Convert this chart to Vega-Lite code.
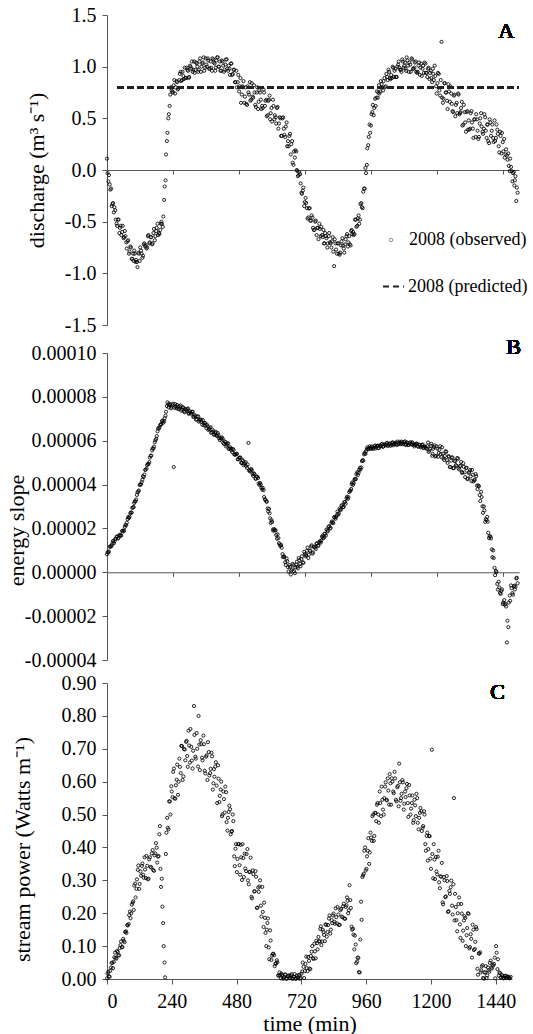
{
"$schema":"https://vega.github.io/schema/vega-lite/v6.json",
"padding":{"left":5,"top":5,"right":0,"bottom":0},
"config":{"view":{"stroke":null},"font":"Liberation Serif",
"axis":{"grid":false,"domainColor":"#555","tickColor":"#555","labelFont":"Liberation Serif","labelFontSize":20,"labelColor":"#000","titleFont":"Liberation Serif","titleFontSize":22,"titleFontWeight":"normal","titleColor":"#000","tickSize":5,"labelPadding":6,"labelOverlap":false},
"axisY":{"labelOverlap":false},
"legend":{"labelFont":"Liberation Serif","labelFontSize":18,"labelColor":"#000"}},
"data":{"values":[
{"t":0,"q":0.11,"s":8.2e-6,"p":0.002},{"t":5,"q":-0.11,"s":9.0e-6,"p":0.022},{"t":10,"q":-0.14,"s":1.17e-5,"p":0.007},{"t":15,"q":-0.18,"s":1.18e-5,"p":0.035},{"t":20,"q":-0.33,"s":1.34e-5,"p":0.049},{"t":25,"q":-0.41,"s":1.32e-5,"p":0.052},{"t":30,"q":-0.39,"s":1.51e-5,"p":0.08},{"t":35,"q":-0.52,"s":1.61e-5,"p":0.062},{"t":40,"q":-0.48,"s":1.54e-5,"p":0.082},{"t":45,"q":-0.61,"s":1.68e-5,"p":0.072},
{"t":50,"q":-0.54,"s":1.68e-5,"p":0.103},{"t":55,"q":-0.60,"s":1.88e-5,"p":0.097},{"t":60,"q":-0.66,"s":1.86e-5,"p":0.122},{"t":65,"q":-0.59,"s":2.07e-5,"p":0.112},{"t":70,"q":-0.70,"s":2.15e-5,"p":0.145},{"t":75,"q":-0.69,"s":2.42e-5,"p":0.164},{"t":80,"q":-0.81,"s":2.48e-5,"p":0.167},{"t":85,"q":-0.74,"s":2.69e-5,"p":0.205},{"t":90,"q":-0.86,"s":2.72e-5,"p":0.2},{"t":95,"q":-0.81,"s":2.96e-5,"p":0.232},
{"t":99,"q":-0.78,"s":3.16e-5,"p":0.21},{"t":104,"q":-0.89,"s":3.24e-5,"p":0.29},{"t":109,"q":-0.89,"s":3.53e-5,"p":0.274},{"t":114,"q":-0.80,"s":3.68e-5,"p":0.332},{"t":119,"q":-0.88,"s":3.98e-5,"p":0.274},{"t":124,"q":-0.78,"s":4.01e-5,"p":0.327},{"t":129,"q":-0.85,"s":4.22e-5,"p":0.344},{"t":134,"q":-0.72,"s":4.35e-5,"p":0.317},{"t":139,"q":-0.74,"s":4.67e-5,"p":0.37},{"t":144,"q":-0.76,"s":4.73e-5,"p":0.307},
{"t":149,"q":-0.64,"s":4.94e-5,"p":0.344},{"t":154,"q":-0.71,"s":5.02e-5,"p":0.305},{"t":159,"q":-0.65,"s":5.31e-5,"p":0.37},{"t":164,"q":-0.72,"s":5.56e-5,"p":0.339},{"t":169,"q":-0.61,"s":5.64e-5,"p":0.392},{"t":174,"q":-0.68,"s":5.93e-5,"p":0.329},{"t":179,"q":-0.59,"s":6.08e-5,"p":0.382},{"t":184,"q":-0.52,"s":6.43e-5,"p":0.399},{"t":189,"q":-0.61,"s":6.56e-5,"p":0.372},{"t":194,"q":-0.58,"s":6.72e-5,"p":0.44},
{"t":198,"q":-0.50,"s":6.75e-5,"p":0.335},{"t":203,"q":-0.55,"s":6.92e-5,"p":0.305},{"t":208,"q":-0.29,"s":6.88e-5,"p":0.17},{"t":213,"q":-0.10,"s":7.14e-5,"p":0.05},{"t":218,"q":0.28,"s":7.58e-5,"p":0.38},{"t":223,"q":0.50,"s":7.66e-5,"p":0.49},{"t":228,"q":0.62,"s":7.68e-5,"p":0.455},{"t":233,"q":0.80,"s":7.48e-5,"p":0.54},{"t":238,"q":0.76,"s":7.62e-5,"p":0.586},{"t":243,"q":0.82,"s":4.8e-5,"p":0.553},
{"t":248,"q":0.74,"s":7.67e-5,"p":0.64},{"t":253,"q":0.86,"s":7.48e-5,"p":0.548},{"t":258,"q":0.78,"s":7.55e-5,"p":0.606},{"t":263,"q":0.87,"s":7.45e-5,"p":0.56},{"t":268,"q":0.95,"s":7.61e-5,"p":0.67},{"t":273,"q":0.87,"s":7.43e-5,"p":0.626},{"t":278,"q":0.91,"s":7.51e-5,"p":0.708},{"t":283,"q":0.99,"s":7.30e-5,"p":0.616},{"t":288,"q":0.89,"s":7.41e-5,"p":0.698},{"t":293,"q":0.97,"s":7.44e-5,"p":0.721},
{"t":297,"q":0.89,"s":7.23e-5,"p":0.678},{"t":302,"q":1.01,"s":7.34e-5,"p":0.755},{"t":307,"q":0.98,"s":7.23e-5,"p":0.658},{"t":312,"q":0.95,"s":7.32e-5,"p":0.706},{"t":317,"q":1.05,"s":7.09e-5,"p":0.64},{"t":322,"q":0.97,"s":7.12e-5,"p":0.83},{"t":327,"q":1.03,"s":6.98e-5,"p":0.676},{"t":332,"q":0.95,"s":7.11e-5,"p":0.748},{"t":337,"q":1.05,"s":6.91e-5,"p":0.646},{"t":342,"q":0.95,"s":6.96e-5,"p":0.713},
{"t":347,"q":1.03,"s":6.73e-5,"p":0.726},{"t":352,"q":1.09,"s":6.80e-5,"p":0.673},{"t":357,"q":0.99,"s":6.81e-5,"p":0.74},{"t":362,"q":1.02,"s":6.57e-5,"p":0.633},{"t":367,"q":1.08,"s":6.65e-5,"p":0.676},{"t":372,"q":0.98,"s":6.53e-5,"p":0.605},{"t":377,"q":1.05,"s":6.62e-5,"p":0.69},{"t":382,"q":0.96,"s":6.39e-5,"p":0.626},{"t":387,"q":1.07,"s":6.42e-5,"p":0.688},{"t":392,"q":1.03,"s":6.28e-5,"p":0.576},
{"t":396,"q":0.99,"s":6.41e-5,"p":0.638},{"t":401,"q":1.09,"s":6.21e-5,"p":0.646},{"t":406,"q":1.00,"s":6.26e-5,"p":0.588},{"t":411,"q":1.05,"s":6.02e-5,"p":0.65},{"t":416,"q":0.96,"s":6.09e-5,"p":0.538},{"t":421,"q":1.05,"s":6.10e-5,"p":0.576},{"t":426,"q":0.95,"s":5.85e-5,"p":0.495},{"t":431,"q":1.02,"s":5.94e-5,"p":0.57},{"t":436,"q":1.07,"s":5.81e-5,"p":0.506},{"t":441,"q":0.96,"s":5.88e-5,"p":0.568},
{"t":446,"q":0.98,"s":5.64e-5,"p":0.451},{"t":451,"q":1.03,"s":5.64e-5,"p":0.508},{"t":456,"q":0.92,"s":5.48e-5,"p":0.516},{"t":461,"q":0.97,"s":5.58e-5,"p":0.448},{"t":466,"q":0.85,"s":5.36e-5,"p":0.5},{"t":471,"q":0.96,"s":5.40e-5,"p":0.373},{"t":476,"q":0.85,"s":5.15e-5,"p":0.396},{"t":481,"q":0.76,"s":5.22e-5,"p":0.325},{"t":486,"q":0.89,"s":5.23e-5,"p":0.41},{"t":491,"q":0.73,"s":4.98e-5,"p":0.346},
{"t":495,"q":0.80,"s":5.07e-5,"p":0.408},{"t":500,"q":0.65,"s":4.94e-5,"p":0.301},{"t":505,"q":0.80,"s":5.02e-5,"p":0.368},{"t":510,"q":0.63,"s":4.76e-5,"p":0.381},{"t":515,"q":0.75,"s":5.9e-5,"p":0.328},{"t":520,"q":0.85,"s":4.60e-5,"p":0.395},{"t":525,"q":0.68,"s":4.71e-5,"p":0.288},{"t":530,"q":0.71,"s":4.48e-5,"p":0.326},{"t":535,"q":0.82,"s":4.51e-5,"p":0.25},{"t":540,"q":0.63,"s":4.28e-5,"p":0.33},
{"t":545,"q":0.75,"s":4.36e-5,"p":0.266},{"t":550,"q":0.59,"s":4.30e-5,"p":0.328},{"t":555,"q":0.77,"s":3.98e-5,"p":0.216},{"t":560,"q":0.68,"s":4.01e-5,"p":0.278},{"t":565,"q":0.62,"s":3.77e-5,"p":0.281},{"t":570,"q":0.78,"s":3.75e-5,"p":0.223},{"t":575,"q":0.62,"s":3.33e-5,"p":0.28},{"t":580,"q":0.68,"s":3.23e-5,"p":0.158},{"t":585,"q":0.53,"s":2.91e-5,"p":0.186},{"t":590,"q":0.68,"s":2.89e-5,"p":0.1},
{"t":594,"q":0.49,"s":2.46e-5,"p":0.17},{"t":599,"q":0.60,"s":2.38e-5,"p":0.096},{"t":604,"q":0.68,"s":1.95e-5,"p":0.148},{"t":609,"q":0.49,"s":1.97e-5,"p":0.058},{"t":614,"q":0.51,"s":1.91e-5,"p":0.076},{"t":619,"q":0.60,"s":1.53e-5,"p":0.072},{"t":624,"q":0.40,"s":1.56e-5,"p":0.046},{"t":629,"q":0.51,"s":1.27e-5,"p":0.057},{"t":634,"q":0.33,"s":1.25e-5,"p":0.011},{"t":639,"q":0.50,"s":8.3e-6,"p":0.02},
{"t":644,"q":0.40,"s":7.3e-6,"p":0.002},{"t":649,"q":0.32,"s":4.6e-6,"p":0.013},{"t":654,"q":0.46,"s":6.3e-6,"p":0.001},{"t":659,"q":0.28,"s":2.3e-6,"p":0.013},{"t":664,"q":0.33,"s":3.3e-6,"p":0.001},{"t":669,"q":0.15,"s":-1.0e-6,"p":0.008},{"t":674,"q":0.28,"s":1.3e-6,"p":0.011},{"t":679,"q":0.05,"s":3.3e-6,"p":0.003},{"t":684,"q":0.12,"s":-4.0e-7,"p":0.015},{"t":689,"q":0.18,"s":3.5e-6,"p":0.001},
{"t":693,"q":-0.01,"s":2.5e-6,"p":0.006},{"t":698,"q":-0.05,"s":6.5e-6,"p":0.001},{"t":703,"q":-0.04,"s":3.8e-6,"p":0.01},{"t":708,"q":-0.22,"s":6.0e-6,"p":0.002},{"t":713,"q":-0.20,"s":4.5e-6,"p":0.013},{"t":718,"q":-0.35,"s":9.3e-6,"p":0.003},{"t":723,"q":-0.27,"s":7.3e-6,"p":0.023},{"t":728,"q":-0.37,"s":9.8e-6,"p":0.037},{"t":733,"q":-0.46,"s":6.5e-6,"p":0.024},{"t":738,"q":-0.37,"s":9.8e-6,"p":0.068},
{"t":743,"q":-0.49,"s":1.18e-5,"p":0.024},{"t":748,"q":-0.46,"s":8.5e-6,"p":0.055},{"t":753,"q":-0.58,"s":1.15e-5,"p":0.03},{"t":758,"q":-0.50,"s":1.13e-5,"p":0.083},{"t":763,"q":-0.63,"s":1.32e-5,"p":0.063},{"t":768,"q":-0.56,"s":1.22e-5,"p":0.107},{"t":773,"q":-0.52,"s":1.37e-5,"p":0.063},{"t":778,"q":-0.64,"s":1.35e-5,"p":0.109},{"t":783,"q":-0.63,"s":1.61e-5,"p":0.128},{"t":788,"q":-0.58,"s":1.56e-5,"p":0.114},
{"t":792,"q":-0.71,"s":1.76e-5,"p":0.16},{"t":797,"q":-0.64,"s":1.68e-5,"p":0.114},{"t":802,"q":-0.75,"s":1.91e-5,"p":0.143},{"t":807,"q":-0.64,"s":2.08e-5,"p":0.115},{"t":812,"q":-0.70,"s":2.00e-5,"p":0.165},{"t":817,"q":-0.75,"s":2.25e-5,"p":0.143},{"t":822,"q":-0.65,"s":2.28e-5,"p":0.184},{"t":827,"q":-0.93,"s":2.52e-5,"p":0.138},{"t":832,"q":-0.71,"s":2.44e-5,"p":0.179},{"t":837,"q":-0.81,"s":2.62e-5,"p":0.193},
{"t":842,"q":-0.71,"s":2.63e-5,"p":0.174},{"t":847,"q":-0.82,"s":2.91e-5,"p":0.215},{"t":852,"q":-0.73,"s":2.86e-5,"p":0.169},{"t":857,"q":-0.66,"s":3.06e-5,"p":0.196},{"t":862,"q":-0.76,"s":2.98e-5,"p":0.165},{"t":867,"q":-0.72,"s":3.21e-5,"p":0.213},{"t":872,"q":-0.64,"s":3.38e-5,"p":0.188},{"t":877,"q":-0.74,"s":3.35e-5,"p":0.229},{"t":882,"q":-0.64,"s":3.65e-5,"p":0.183},{"t":887,"q":-0.73,"s":3.73e-5,"p":0.224},
{"t":891,"q":-0.58,"s":4.02e-5,"p":0.238},{"t":896,"q":-0.60,"s":3.99e-5,"p":0.209},{"t":901,"q":-0.62,"s":4.22e-5,"p":0.24},{"t":906,"q":-0.48,"s":4.25e-5,"p":0.159},{"t":911,"q":-0.54,"s":4.56e-5,"p":0.153},{"t":916,"q":-0.44,"s":4.53e-5,"p":0.09},{"t":921,"q":-0.48,"s":4.76e-5,"p":0.105},{"t":926,"q":-0.32,"s":4.78e-5,"p":0.053},{"t":931,"q":-0.37,"s":5.11e-5,"p":0.064},{"t":936,"q":-0.18,"s":5.38e-5,"p":0.02},
{"t":941,"q":0.02,"s":5.40e-5,"p":0.235},{"t":946,"q":0.05,"s":5.61e-5,"p":0.31},{"t":951,"q":0.24,"s":5.63e-5,"p":0.32},{"t":956,"q":0.44,"s":5.74e-5,"p":0.4},{"t":961,"q":0.43,"s":5.63e-5,"p":0.335},{"t":966,"q":0.56,"s":5.70e-5,"p":0.39},{"t":971,"q":0.53,"s":5.65e-5,"p":0.35},{"t":976,"q":0.69,"s":5.78e-5,"p":0.445},{"t":981,"q":0.70,"s":5.70e-5,"p":0.42},{"t":986,"q":0.70,"s":5.77e-5,"p":0.5},
{"t":990,"q":0.82,"s":5.67e-5,"p":0.435},{"t":995,"q":0.76,"s":5.77e-5,"p":0.505},{"t":1000,"q":0.83,"s":5.83e-5,"p":0.53},{"t":1005,"q":0.77,"s":5.72e-5,"p":0.5},{"t":1010,"q":0.89,"s":5.83e-5,"p":0.57},{"t":1015,"q":0.81,"s":5.79e-5,"p":0.495},{"t":1020,"q":0.90,"s":5.90e-5,"p":0.545},{"t":1025,"q":0.97,"s":5.80e-5,"p":0.5},{"t":1030,"q":0.89,"s":5.87e-5,"p":0.585},{"t":1035,"q":0.92,"s":5.81e-5,"p":0.545},
{"t":1040,"q":1.00,"s":5.93e-5,"p":0.61},{"t":1045,"q":0.90,"s":5.85e-5,"p":0.53},{"t":1050,"q":0.98,"s":5.91e-5,"p":0.595},{"t":1055,"q":0.90,"s":5.80e-5,"p":0.61},{"t":1060,"q":1.02,"s":5.89e-5,"p":0.57},{"t":1065,"q":0.99,"s":5.95e-5,"p":0.63},{"t":1070,"q":0.97,"s":5.84e-5,"p":0.545},{"t":1075,"q":1.07,"s":5.93e-5,"p":0.583},{"t":1080,"q":0.99,"s":5.87e-5,"p":0.525},{"t":1085,"q":1.04,"s":5.97e-5,"p":0.598},
{"t":1089,"q":0.96,"s":5.84e-5,"p":0.55},{"t":1094,"q":1.06,"s":5.89e-5,"p":0.605},{"t":1099,"q":0.95,"s":5.82e-5,"p":0.515},{"t":1104,"q":1.02,"s":5.93e-5,"p":0.57},{"t":1109,"q":1.08,"s":5.83e-5,"p":0.58},{"t":1114,"q":0.98,"s":5.88e-5,"p":0.535},{"t":1119,"q":0.99,"s":5.74e-5,"p":0.59},{"t":1124,"q":1.05,"s":5.82e-5,"p":0.5},{"t":1129,"q":0.94,"s":5.86e-5,"p":0.535},{"t":1134,"q":1.01,"s":5.73e-5,"p":0.475},
{"t":1139,"q":0.92,"s":5.81e-5,"p":0.545},{"t":1144,"q":1.03,"s":5.74e-5,"p":0.495},{"t":1149,"q":0.98,"s":5.83e-5,"p":0.55},{"t":1154,"q":0.94,"s":5.68e-5,"p":0.455},{"t":1159,"q":1.03,"s":5.72e-5,"p":0.505},{"t":1164,"q":0.94,"s":5.63e-5,"p":0.51},{"t":1169,"q":0.98,"s":5.92e-5,"p":0.46},{"t":1174,"q":0.88,"s":5.55e-5,"p":0.51},{"t":1179,"q":0.96,"s":5.77e-5,"p":0.41},{"t":1184,"q":0.85,"s":5.31e-5,"p":0.435},
{"t":1188,"q":0.93,"s":5.63e-5,"p":0.36},{"t":1193,"q":1.01,"s":5.79e-5,"p":0.435},{"t":1198,"q":0.81,"s":5.31e-5,"p":0.366},{"t":1203,"q":0.84,"s":5.64e-5,"p":0.697},{"t":1208,"q":0.93,"s":5.44e-5,"p":0.306},{"t":1213,"q":0.72,"s":5.75e-5,"p":0.363},{"t":1218,"q":1.24,"s":5.25e-5,"p":0.371},{"t":1223,"q":0.65,"s":5.41e-5,"p":0.318},{"t":1228,"q":0.84,"s":5.12e-5,"p":0.39},{"t":1233,"q":0.75,"s":5.52e-5,"p":0.276},
{"t":1238,"q":0.67,"s":5.11e-5,"p":0.311},{"t":1243,"q":0.83,"s":5.30e-5,"p":0.233},{"t":1248,"q":0.66,"s":4.80e-5,"p":0.31},{"t":1253,"q":0.74,"s":5.09e-5,"p":0.249},{"t":1258,"q":0.57,"s":5.23e-5,"p":0.313},{"t":1263,"q":0.72,"s":4.75e-5,"p":0.204},{"t":1268,"q":0.52,"s":5.07e-5,"p":0.268},{"t":1273,"q":0.65,"s":4.85e-5,"p":0.279},{"t":1278,"q":0.74,"s":5.18e-5,"p":0.223},{"t":1283,"q":0.54,"s":4.69e-5,"p":0.288},
{"t":1287,"q":0.56,"s":4.86e-5,"p":0.178},{"t":1292,"q":0.66,"s":4.57e-5,"p":0.219},{"t":1297,"q":0.44,"s":4.97e-5,"p":0.145},{"t":1302,"q":0.56,"s":4.56e-5,"p":0.228},{"t":1307,"q":0.37,"s":4.75e-5,"p":0.166},{"t":1312,"q":0.57,"s":4.25e-5,"p":0.228},{"t":1317,"q":0.48,"s":4.53e-5,"p":0.116},{"t":1322,"q":0.40,"s":4.66e-5,"p":0.178},{"t":1327,"q":0.57,"s":4.16e-5,"p":0.186},{"t":1332,"q":0.40,"s":4.45e-5,"p":0.133},
{"t":1337,"q":0.49,"s":4.19e-5,"p":0.2},{"t":1342,"q":0.32,"s":4.48e-5,"p":0.093},{"t":1347,"q":0.49,"s":3.95e-5,"p":0.136},{"t":1352,"q":0.30,"s":3.96e-5,"p":0.065},{"t":1357,"q":0.45,"s":3.52e-5,"p":0.15},{"t":1362,"q":0.55,"s":3.67e-5,"p":0.091},{"t":1367,"q":0.37,"s":3.01e-5,"p":0.158},{"t":1372,"q":0.40,"s":3.00e-5,"p":0.031},{"t":1377,"q":0.51,"s":2.30e-5,"p":0.078},{"t":1382,"q":0.31,"s":2.38e-5,"p":0.081},
{"t":1386,"q":0.44,"s":2.31e-5,"p":0.026},{"t":1391,"q":0.26,"s":1.56e-5,"p":0.042},{"t":1396,"q":0.46,"s":1.62e-5,"p":0.001},{"t":1401,"q":0.38,"s":1.04e-5,"p":0.02},{"t":1406,"q":0.31,"s":1.00e-5,"p":0.003},{"t":1411,"q":0.48,"s":2.0e-6,"p":0.035},{"t":1416,"q":0.31,"s":6.0e-7,"p":0.022},{"t":1421,"q":0.39,"s":-5.3e-6,"p":0.056},{"t":1426,"q":0.23,"s":-4.3e-6,"p":0.032},{"t":1431,"q":0.37,"s":-9.4e-6,"p":0.041},
{"t":1436,"q":0.16,"s":-8.5e-6,"p":0.065},{"t":1441,"q":0.27,"s":-1.45e-5,"p":0.10},{"t":1446,"q":0.30,"s":-1.27e-5,"p":0.03},{"t":1451,"q":0.15,"s":-1.44e-5,"p":0.01},{"t":1456,"q":0.14,"s":-3.2e-5,"p":0.018},{"t":1461,"q":0.16,"s":-2.5e-5,"p":0.004},{"t":1466,"q":-0.01,"s":-1.06e-5,"p":0.008},{"t":1471,"q":0.03,"s":-6.0e-6,"p":0.003},{"t":1476,"q":-0.11,"s":-9.5e-6,"p":0.01},{"t":1481,"q":-0.02,"s":-6.4e-6,"p":0.004},
{"t":1485,"q":-0.10,"s":-7.8e-6,"p":0.006},{"t":1490,"q":-0.30,"s":-2.8e-6,"p":0.002},{"t":1495,"q":-0.22,"s":-5.0e-6,"p":0.007},
{"t":2,"q":-0.03,"s":9.2e-6,"p":0.016},{"t":7,"q":-0.05,"s":9.5e-6,"p":0.008},{"t":12,"q":-0.19,"s":1.17e-5,"p":0.025},{"t":17,"q":-0.35,"s":1.23e-5,"p":0.049},{"t":22,"q":-0.32,"s":1.43e-5,"p":0.033},{"t":27,"q":-0.36,"s":1.41e-5,"p":0.066},{"t":32,"q":-0.48,"s":1.53e-5,"p":0.064},{"t":37,"q":-0.54,"s":1.64e-5,"p":0.085},{"t":42,"q":-0.48,"s":1.57e-5,"p":0.072},{"t":47,"q":-0.56,"s":1.71e-5,"p":0.094},
{"t":52,"q":-0.63,"s":1.67e-5,"p":0.114},{"t":57,"q":-0.54,"s":1.90e-5,"p":0.097},{"t":62,"q":-0.65,"s":1.90e-5,"p":0.116},{"t":67,"q":-0.64,"s":2.15e-5,"p":0.143},{"t":72,"q":-0.76,"s":2.26e-5,"p":0.14},{"t":77,"q":-0.68,"s":2.51e-5,"p":0.163},{"t":82,"q":-0.79,"s":2.54e-5,"p":0.194},{"t":87,"q":-0.75,"s":2.73e-5,"p":0.185},{"t":92,"q":-0.86,"s":2.94e-5,"p":0.226},{"t":97,"q":-0.88,"s":2.97e-5,"p":0.236},
{"t":101,"q":-0.81,"s":3.23e-5,"p":0.284},{"t":106,"q":-0.87,"s":3.32e-5,"p":0.248},{"t":111,"q":-0.94,"s":3.65e-5,"p":0.303},{"t":116,"q":-0.81,"s":3.73e-5,"p":0.345},{"t":121,"q":-0.75,"s":4.00e-5,"p":0.289},{"t":126,"q":-0.81,"s":4.11e-5,"p":0.314},{"t":131,"q":-0.83,"s":4.38e-5,"p":0.351},{"t":136,"q":-0.71,"s":4.46e-5,"p":0.308},{"t":141,"q":-0.73,"s":4.68e-5,"p":0.333},{"t":146,"q":-0.75,"s":4.89e-5,"p":0.374},
{"t":151,"q":-0.63,"s":4.94e-5,"p":0.303},{"t":156,"q":-0.70,"s":5.23e-5,"p":0.364},{"t":161,"q":-0.65,"s":5.32e-5,"p":0.341},{"t":166,"q":-0.71,"s":5.65e-5,"p":0.382},{"t":171,"q":-0.57,"s":5.73e-5,"p":0.331},{"t":176,"q":-0.64,"s":6.02e-5,"p":0.376},{"t":181,"q":-0.56,"s":6.21e-5,"p":0.413},{"t":186,"q":-0.63,"s":6.56e-5,"p":0.354},{"t":191,"q":-0.62,"s":6.61e-5,"p":0.374},{"t":196,"q":-0.52,"s":6.75e-5,"p":0.465},
{"t":200,"q":-0.52,"s":6.89e-5,"p":0.28},{"t":205,"q":-0.45,"s":6.82e-5,"p":0.22},{"t":210,"q":-0.16,"s":7.03e-5,"p":0.10},{"t":215,"q":0.15,"s":7.32e-5,"p":0.005},{"t":220,"q":0.36,"s":7.75e-5,"p":0.445},{"t":225,"q":0.54,"s":7.52e-5,"p":0.46},{"t":230,"q":0.73,"s":7.63e-5,"p":0.54},{"t":235,"q":0.77,"s":7.55e-5,"p":0.50},{"t":240,"q":0.75,"s":7.69e-5,"p":0.57},{"t":245,"q":0.87,"s":7.50e-5,"p":0.63},
{"t":250,"q":0.80,"s":7.55e-5,"p":0.55},{"t":255,"q":0.85,"s":7.63e-5,"p":0.589},{"t":260,"q":0.79,"s":7.44e-5,"p":0.652},{"t":265,"q":0.93,"s":7.56e-5,"p":0.60},{"t":270,"q":0.86,"s":7.37e-5,"p":0.645},{"t":275,"q":0.95,"s":7.53e-5,"p":0.709},{"t":280,"q":0.88,"s":7.33e-5,"p":0.605},{"t":285,"q":0.89,"s":7.45e-5,"p":0.699},{"t":290,"q":0.99,"s":7.36e-5,"p":0.665},{"t":295,"q":0.96,"s":7.47e-5,"p":0.724},
{"t":299,"q":0.90,"s":7.25e-5,"p":0.645},{"t":304,"q":1.00,"s":7.27e-5,"p":0.71},{"t":309,"q":1.05,"s":7.32e-5,"p":0.76},{"t":314,"q":0.97,"s":7.09e-5,"p":0.664},{"t":319,"q":0.94,"s":7.17e-5,"p":0.694},{"t":324,"q":1.04,"s":6.96e-5,"p":0.742},{"t":329,"q":1.00,"s":7.10e-5,"p":0.67},{"t":334,"q":0.97,"s":6.87e-5,"p":0.70},{"t":339,"q":1.08,"s":6.96e-5,"p":0.80},{"t":344,"q":1.00,"s":6.85e-5,"p":0.635},
{"t":349,"q":1.04,"s":6.94e-5,"p":0.714},{"t":354,"q":0.96,"s":6.70e-5,"p":0.665},{"t":359,"q":1.08,"s":6.70e-5,"p":0.714},{"t":364,"q":1.00,"s":6.73e-5,"p":0.625},{"t":369,"q":1.06,"s":6.49e-5,"p":0.68},{"t":374,"q":0.98,"s":6.57e-5,"p":0.72},{"t":379,"q":0.99,"s":6.36e-5,"p":0.619},{"t":384,"q":1.08,"s":6.50e-5,"p":0.639},{"t":389,"q":1.04,"s":6.27e-5,"p":0.677},{"t":394,"q":0.96,"s":6.36e-5,"p":0.595},
{"t":398,"q":1.06,"s":6.25e-5,"p":0.615},{"t":403,"q":1.09,"s":6.35e-5,"p":0.659},{"t":408,"q":1.00,"s":6.11e-5,"p":0.535},{"t":413,"q":0.96,"s":6.11e-5,"p":0.609},{"t":418,"q":1.06,"s":6.15e-5,"p":0.557},{"t":423,"q":1.01,"s":5.90e-5,"p":0.60},{"t":428,"q":0.97,"s":5.97e-5,"p":0.50},{"t":433,"q":1.07,"s":5.74e-5,"p":0.547},{"t":438,"q":0.98,"s":5.87e-5,"p":0.585},{"t":443,"q":1.01,"s":5.62e-5,"p":0.477},
{"t":448,"q":0.92,"s":5.70e-5,"p":0.49},{"t":453,"q":1.03,"s":5.56e-5,"p":0.527},{"t":458,"q":0.93,"s":5.63e-5,"p":0.44},{"t":463,"q":0.97,"s":5.38e-5,"p":0.45},{"t":468,"q":0.85,"s":5.37e-5,"p":0.48},{"t":473,"q":0.80,"s":5.40e-5,"p":0.343},{"t":478,"q":0.92,"s":5.16e-5,"p":0.41},{"t":483,"q":0.81,"s":5.23e-5,"p":0.365},{"t":488,"q":0.65,"s":5.00e-5,"p":0.41},{"t":493,"q":0.81,"s":5.12e-5,"p":0.317},
{"t":497,"q":0.86,"s":4.88e-5,"p":0.37},{"t":502,"q":0.71,"s":4.97e-5,"p":0.41},{"t":507,"q":0.64,"s":4.84e-5,"p":0.31},{"t":512,"q":0.81,"s":4.91e-5,"p":0.336},{"t":517,"q":0.73,"s":4.65e-5,"p":0.38},{"t":522,"q":0.67,"s":4.64e-5,"p":0.30},{"t":527,"q":0.84,"s":4.66e-5,"p":0.325},{"t":532,"q":0.70,"s":4.40e-5,"p":0.369},{"t":537,"q":0.75,"s":4.47e-5,"p":0.245},{"t":542,"q":0.61,"s":4.26e-5,"p":0.319},
{"t":547,"q":0.80,"s":4.36e-5,"p":0.267},{"t":552,"q":0.66,"s":4.05e-5,"p":0.311},{"t":557,"q":0.75,"s":4.07e-5,"p":0.217},{"t":562,"q":0.59,"s":3.85e-5,"p":0.265},{"t":567,"q":0.60,"s":3.85e-5,"p":0.30},{"t":572,"q":0.75,"s":3.43e-5,"p":0.19},{"t":577,"q":0.67,"s":3.30e-5,"p":0.204},{"t":582,"q":0.52,"s":3.22e-5,"p":0.232},{"t":587,"q":0.67,"s":2.77e-5,"p":0.14},{"t":592,"q":0.72,"s":2.69e-5,"p":0.15},
{"t":596,"q":0.55,"s":2.25e-5,"p":0.184},{"t":601,"q":0.47,"s":2.29e-5,"p":0.06},{"t":606,"q":0.62,"s":1.89e-5,"p":0.117},{"t":611,"q":0.53,"s":1.92e-5,"p":0.071},{"t":616,"q":0.45,"s":1.70e-5,"p":0.077},{"t":621,"q":0.61,"s":1.73e-5,"p":0.039},{"t":626,"q":0.45,"s":1.33e-5,"p":0.048},{"t":631,"q":0.50,"s":1.20e-5,"p":0.051},{"t":636,"q":0.33,"s":1.12e-5,"p":0.01},{"t":641,"q":0.51,"s":6.9e-6,"p":0.012},
{"t":646,"q":0.34,"s":6.9e-6,"p":0.016},{"t":651,"q":0.42,"s":3.3e-6,"p":0.002},{"t":656,"q":0.23,"s":5.0e-6,"p":0.005},{"t":661,"q":0.23,"s":3.0e-7,"p":0.014},{"t":666,"q":0.35,"s":2.5e-6,"p":0.001},{"t":671,"q":0.25,"s":7.5e-7,"p":0.009},{"t":676,"q":0.07,"s":3.8e-6,"p":0.002},{"t":681,"q":0.18,"s":5.0e-7,"p":0.011},{"t":686,"q":0.19,"s":2.3e-6,"p":0.001},{"t":691,"q":0.00,"s":4.8e-6,"p":0.007},
{"t":695,"q":-0.06,"s":1.8e-6,"p":0.015},{"t":700,"q":-0.02,"s":5.5e-6,"p":0.001},{"t":705,"q":-0.13,"s":2.8e-6,"p":0.004},{"t":710,"q":-0.23,"s":7.3e-6,"p":0.012},{"t":715,"q":-0.17,"s":4.3e-6,"p":0.001},{"t":720,"q":-0.31,"s":8.3e-6,"p":0.016},{"t":725,"q":-0.32,"s":7.8e-6,"p":0.05},{"t":730,"q":-0.47,"s":1.13e-5,"p":0.003},{"t":735,"q":-0.37,"s":8.0e-6,"p":0.046},{"t":740,"q":-0.49,"s":9.8e-6,"p":0.033},
{"t":745,"q":-0.44,"s":1.23e-5,"p":0.067},{"t":750,"q":-0.56,"s":9.0e-6,"p":0.032},{"t":755,"q":-0.58,"s":1.17e-5,"p":0.07},{"t":760,"q":-0.49,"s":1.06e-5,"p":0.10},{"t":765,"q":-0.56,"s":1.31e-5,"p":0.061},{"t":770,"q":-0.67,"s":1.21e-5,"p":0.084},{"t":775,"q":-0.57,"s":1.42e-5,"p":0.116},{"t":780,"q":-0.55,"s":1.44e-5,"p":0.09},{"t":785,"q":-0.65,"s":1.67e-5,"p":0.115},{"t":790,"q":-0.71,"s":1.59e-5,"p":0.152},
{"t":794,"q":-0.61,"s":1.75e-5,"p":0.103},{"t":799,"q":-0.66,"s":1.95e-5,"p":0.15},{"t":804,"q":-0.71,"s":1.87e-5,"p":0.134},{"t":809,"q":-0.61,"s":2.10e-5,"p":0.166},{"t":814,"q":-0.71,"s":2.03e-5,"p":0.129},{"t":819,"q":-0.69,"s":2.32e-5,"p":0.164},{"t":824,"q":-0.79,"s":2.24e-5,"p":0.193},{"t":829,"q":-0.67,"s":2.49e-5,"p":0.15},{"t":834,"q":-0.77,"s":2.53e-5,"p":0.17},{"t":839,"q":-0.71,"s":2.77e-5,"p":0.199},
{"t":844,"q":-0.81,"s":2.69e-5,"p":0.168},{"t":849,"q":-0.80,"s":2.85e-5,"p":0.188},{"t":854,"q":-0.69,"s":3.05e-5,"p":0.219},{"t":859,"q":-0.73,"s":2.97e-5,"p":0.164},{"t":864,"q":-0.80,"s":3.20e-5,"p":0.209},{"t":869,"q":-0.67,"s":3.13e-5,"p":0.19},{"t":874,"q":-0.62,"s":3.45e-5,"p":0.221},{"t":879,"q":-0.70,"s":3.42e-5,"p":0.184},{"t":884,"q":-0.72,"s":3.71e-5,"p":0.219},{"t":889,"q":-0.59,"s":3.80e-5,"p":0.248},
{"t":893,"q":-0.62,"s":4.10e-5,"p":0.20},{"t":898,"q":-0.63,"s":4.07e-5,"p":0.285},{"t":903,"q":-0.48,"s":4.26e-5,"p":0.216},{"t":908,"q":-0.55,"s":4.48e-5,"p":0.15},{"t":913,"q":-0.47,"s":4.43e-5,"p":0.135},{"t":918,"q":-0.52,"s":4.68e-5,"p":0.132},{"t":923,"q":-0.33,"s":4.68e-5,"p":0.048},{"t":928,"q":-0.36,"s":5.07e-5,"p":0.065},{"t":933,"q":-0.21,"s":5.09e-5,"p":0.021},{"t":938,"q":-0.18,"s":5.44e-5,"p":0.12},
{"t":943,"q":-0.03,"s":5.52e-5,"p":0.18},{"t":948,"q":0.21,"s":5.70e-5,"p":0.315},{"t":953,"q":0.32,"s":5.62e-5,"p":0.39},{"t":958,"q":0.36,"s":5.67e-5,"p":0.33},{"t":963,"q":0.54,"s":5.74e-5,"p":0.373},{"t":968,"q":0.63,"s":5.63e-5,"p":0.428},{"t":973,"q":0.60,"s":5.74e-5,"p":0.385},{"t":978,"q":0.62,"s":5.64e-5,"p":0.43},{"t":983,"q":0.76,"s":5.77e-5,"p":0.495},{"t":988,"q":0.75,"s":5.67e-5,"p":0.42},
{"t":992,"q":0.74,"s":5.78e-5,"p":0.505},{"t":997,"q":0.86,"s":5.75e-5,"p":0.48},{"t":1002,"q":0.80,"s":5.86e-5,"p":0.535},{"t":1007,"q":0.86,"s":5.75e-5,"p":0.475},{"t":1012,"q":0.80,"s":5.80e-5,"p":0.535},{"t":1017,"q":0.93,"s":5.87e-5,"p":0.585},{"t":1022,"q":0.87,"s":5.76e-5,"p":0.515},{"t":1027,"q":0.95,"s":5.86e-5,"p":0.55},{"t":1032,"q":0.88,"s":5.77e-5,"p":0.598},{"t":1037,"q":0.89,"s":5.90e-5,"p":0.543},
{"t":1042,"q":0.99,"s":5.79e-5,"p":0.573},{"t":1047,"q":0.96,"s":5.89e-5,"p":0.623},{"t":1052,"q":0.90,"s":5.85e-5,"p":0.53},{"t":1057,"q":1.00,"s":5.96e-5,"p":0.60},{"t":1062,"q":1.05,"s":5.84e-5,"p":0.565},{"t":1067,"q":0.97,"s":5.89e-5,"p":0.61},{"t":1072,"q":0.95,"s":5.96e-5,"p":0.54},{"t":1077,"q":1.05,"s":5.84e-5,"p":0.587},{"t":1082,"q":1.01,"s":5.93e-5,"p":0.655},{"t":1087,"q":0.98,"s":5.81e-5,"p":0.542},
{"t":1091,"q":1.09,"s":5.93e-5,"p":0.563},{"t":1096,"q":1.01,"s":5.80e-5,"p":0.598},{"t":1101,"q":1.04,"s":5.89e-5,"p":0.533},{"t":1106,"q":0.95,"s":5.84e-5,"p":0.553},{"t":1111,"q":1.07,"s":5.93e-5,"p":0.593},{"t":1116,"q":0.98,"s":5.80e-5,"p":0.493},{"t":1121,"q":1.04,"s":5.82e-5,"p":0.558},{"t":1126,"q":0.95,"s":5.87e-5,"p":0.518},{"t":1131,"q":0.95,"s":5.74e-5,"p":0.558},{"t":1136,"q":1.04,"s":5.82e-5,"p":0.483},
{"t":1141,"q":0.99,"s":5.70e-5,"p":0.528},{"t":1146,"q":0.91,"s":5.81e-5,"p":0.563},{"t":1151,"q":1.01,"s":5.67e-5,"p":0.475},{"t":1156,"q":1.04,"s":5.74e-5,"p":0.49},{"t":1161,"q":0.94,"s":5.67e-5,"p":0.52},{"t":1166,"q":0.90,"s":5.75e-5,"p":0.45},{"t":1171,"q":0.99,"s":5.49e-5,"p":0.465},{"t":1176,"q":0.94,"s":5.63e-5,"p":0.50},{"t":1181,"q":0.89,"s":5.86e-5,"p":0.39},{"t":1186,"q":0.98,"s":5.40e-5,"p":0.445},
{"t":1190,"q":0.87,"s":5.71e-5,"p":0.395},{"t":1195,"q":0.91,"s":5.28e-5,"p":0.434},{"t":1200,"q":0.74,"s":5.74e-5,"p":0.335},{"t":1205,"q":0.94,"s":5.27e-5,"p":0.38},{"t":1210,"q":0.77,"s":5.59e-5,"p":0.41},{"t":1215,"q":0.87,"s":5.39e-5,"p":0.304},{"t":1220,"q":0.70,"s":5.70e-5,"p":0.327},{"t":1225,"q":0.69,"s":5.20e-5,"p":0.372},{"t":1230,"q":0.84,"s":5.30e-5,"p":0.294},{"t":1235,"q":0.75,"s":5.49e-5,"p":0.312},
{"t":1240,"q":0.59,"s":4.99e-5,"p":0.353},{"t":1245,"q":0.76,"s":5.27e-5,"p":0.227},{"t":1250,"q":0.81,"s":4.80e-5,"p":0.30},{"t":1255,"q":0.64,"s":5.24e-5,"p":0.251},{"t":1260,"q":0.56,"s":4.75e-5,"p":0.298},{"t":1265,"q":0.73,"s":5.08e-5,"p":0.206},{"t":1270,"q":0.63,"s":4.89e-5,"p":0.259},{"t":1275,"q":0.55,"s":5.21e-5,"p":0.299},{"t":1280,"q":0.73,"s":4.73e-5,"p":0.196},{"t":1285,"q":0.55,"s":4.84e-5,"p":0.55},
{"t":1289,"q":0.60,"s":5.03e-5,"p":0.259},{"t":1294,"q":0.43,"s":4.53e-5,"p":0.179},{"t":1299,"q":0.63,"s":4.81e-5,"p":0.20},{"t":1304,"q":0.46,"s":4.34e-5,"p":0.248},{"t":1309,"q":0.56,"s":4.77e-5,"p":0.125},{"t":1314,"q":0.39,"s":4.27e-5,"p":0.199},{"t":1319,"q":0.39,"s":4.58e-5,"p":0.147},{"t":1324,"q":0.55,"s":4.37e-5,"p":0.191},{"t":1329,"q":0.46,"s":4.67e-5,"p":0.10},{"t":1334,"q":0.31,"s":4.14e-5,"p":0.155},
{"t":1339,"q":0.49,"s":4.22e-5,"p":0.198},{"t":1344,"q":0.54,"s":4.38e-5,"p":0.097},{"t":1349,"q":0.38,"s":3.79e-5,"p":0.122},{"t":1354,"q":0.32,"s":3.92e-5,"p":0.165},{"t":1359,"q":0.50,"s":3.25e-5,"p":0.088},{"t":1364,"q":0.42,"s":3.43e-5,"p":0.113},{"t":1369,"q":0.35,"s":2.71e-5,"p":0.152},{"t":1374,"q":0.54,"s":2.82e-5,"p":0.013},{"t":1379,"q":0.38,"s":2.42e-5,"p":0.077},{"t":1384,"q":0.44,"s":2.53e-5,"p":0.02},
{"t":1388,"q":0.28,"s":1.80e-5,"p":0.038},{"t":1393,"q":0.49,"s":1.65e-5,"p":0.003},{"t":1398,"q":0.33,"s":1.54e-5,"p":0.02},{"t":1403,"q":0.44,"s":6.9e-6,"p":0.039},{"t":1408,"q":0.27,"s":6.5e-6,"p":0.011},{"t":1413,"q":0.28,"s":-1.3e-6,"p":0.026},{"t":1418,"q":0.44,"s":1.0e-7,"p":0.049},{"t":1423,"q":0.35,"s":-7.9e-6,"p":0.035},{"t":1428,"q":0.17,"s":-6.9e-6,"p":0.043},{"t":1433,"q":0.33,"s":-9.9e-6,"p":0.046},
{"t":1438,"q":0.36,"s":-7.8e-6,"p":0.002},{"t":1443,"q":0.18,"s":-1.38e-5,"p":0.08},{"t":1448,"q":0.12,"s":-1.48e-5,"p":0.06},{"t":1453,"q":0.20,"s":-1.56e-5,"p":0.02},{"t":1458,"q":0.10,"s":-2.21e-5,"p":0.005},{"t":1463,"q":0.04,"s":-1.38e-5,"p":0.012},{"t":1468,"q":0.11,"s":-1.30e-5,"p":0.002},{"t":1473,"q":-0.01,"s":-7.2e-6,"p":0.009},{"t":1478,"q":-0.03,"s":-1.02e-5,"p":0.003},{"t":1483,"q":-0.15,"s":-6.1e-6,"p":0.008},
{"t":1487,"q":-0.06,"s":-6.6e-6,"p":0.005},{"t":1492,"q":-0.17,"s":-2.5e-6,"p":0.003}
]},
"resolve":{"legend":{"shape":"independent","strokeDash":"independent"}},
"bounds":"flush",
"spacing":28,
"vconcat":[
{"width":412,"height":310,
 "layer":[
 {"mark":{"type":"point","filled":false,"stroke":"#000","strokeWidth":0.85,"size":10,"opacity":1},
  "encoding":{
   "x":{"field":"t","type":"quantitative","scale":{"domain":[0,1500],"nice":false,"zero":false},
        "axis":{"offset":-155,"values":[0,120,240,360,480,600,720,840,960,1080,1200,1320,1440],"labels":false,"title":null,"tickSize":4}},
   "y":{"field":"q","type":"quantitative","scale":{"domain":[-1.5,1.5],"nice":false},
        "axis":{"values":[-1.5,-1,-0.5,0,0.5,1,1.5],"tickCount":7,"format":".1f","labelOverlap":false,"labelExpr":"replace(datum.label,'\u2212','-')","title":"discharge (m³ s⁻¹)","titleX":-71,"titleY":155,"titleBaseline":"middle","titleAlign":"center"}},
   "shape":{"datum":"2008 (observed)","type":"nominal","scale":{"range":["circle"]},
     "legend":{"orient":"none","legendX":275,"legendY":216,"title":null,"symbolStrokeColor":"#777","symbolFillColor":"transparent","symbolSize":12,"symbolStrokeWidth":0.8,"labelOffset":9}}
  }},
 {"mark":{"type":"rule","strokeWidth":1.8,"color":"#222"},
  "encoding":{"x":{"datum":37},"x2":{"datum":1500},"y":{"datum":0.8},
   "strokeDash":{"datum":"2008 (predicted)","type":"nominal","scale":{"range":[[6,4]]},
     "legend":{"orient":"none","legendX":275,"legendY":260,"title":null,"symbolType":"stroke","symbolStrokeColor":"#222","symbolStrokeWidth":1.8,"symbolSize":440,"labelOffset":3}}}},
 {"mark":{"type":"text","fontSize":22,"font":"Liberation Serif","fontWeight":"normal","color":"#000"},
  "encoding":{"x":{"datum":1453},"y":{"datum":1.345},"text":{"value":"A"}}}
 ]},
{"bounds":"flush","spacing":23,
 "vconcat":[
 {"width":412,"height":307,
  "layer":[
  {"mark":{"type":"point","filled":false,"stroke":"#000","strokeWidth":0.85,"size":10,"opacity":1},
   "encoding":{
    "x":{"field":"t","type":"quantitative","scale":{"domain":[0,1500],"nice":false,"zero":false},
         "axis":{"offset":-87.7,"values":[0,120,240,360,480,600,720,840,960,1080,1200,1320,1440],"labels":false,"title":null,"tickSize":4}},
    "y":{"field":"s","type":"quantitative","scale":{"domain":[-0.00004,0.0001],"nice":false},
         "axis":{"values":[-0.00004,-0.00002,0,0.00002,0.00004,0.00006,0.00008,0.0001],"tickCount":8,"format":".5f","labelOverlap":false,"labelExpr":"replace(datum.label,'\u2212','-')","title":"energy slope","titleX":-91,"titleY":177,"titleBaseline":"middle","titleAlign":"center"}}
   }},
  {"mark":{"type":"text","fontSize":22,"font":"Liberation Serif","fontWeight":"normal","color":"#000"},
   "encoding":{"x":{"datum":1480},"y":{"datum":0.0001026},"text":{"value":"B"}}}
  ]},
 {"width":405,"height":296,
  "layer":[
  {"mark":{"type":"point","filled":false,"stroke":"#000","strokeWidth":0.85,"size":10,"opacity":1},
   "encoding":{
    "x":{"field":"t","type":"quantitative","scale":{"domain":[0,1500],"nice":false,"zero":false},
         "axis":{"values":[0,120,240,360,480,600,720,840,960,1080,1200,1320,1440],"format":"d","labelOverlap":false,"labelExpr":"datum.value % 240 === 0 ? datum.label : ''","title":"time (min)","labelPadding":7,"titlePadding":2}},
    "y":{"field":"p","type":"quantitative","scale":{"domain":[0,0.9],"nice":false},
         "axis":{"values":[0,0.1,0.2,0.3,0.4,0.5,0.6,0.7,0.8,0.9],"tickCount":10,"format":".2f","labelOverlap":false,"labelBound":false,"labelSeparation":0,"labelFontSize":20,"title":"stream power (Watts  m⁻¹)","titleX":-85,"titleY":166,"titleBaseline":"middle","titleAlign":"center"}}
   }},
  {"mark":{"type":"text","fontSize":22,"font":"Liberation Serif","fontWeight":"normal","color":"#000"},
   "encoding":{"x":{"datum":1447},"y":{"datum":0.873},"text":{"value":"C"}}}
  ]}
 ]}
]
}
